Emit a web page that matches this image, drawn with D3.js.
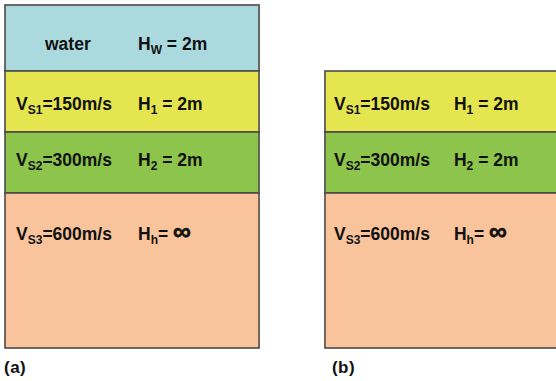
<!DOCTYPE html>
<html>
<head>
<meta charset="utf-8">
<script src="https://cdn.jsdelivr.net/npm/d3@7/dist/d3.min.js"></script>
<style>
  html, body { margin: 0; padding: 0; background: #fff; }
  svg { display: block; }
  text { font-family: "Liberation Sans", Arial, sans-serif; font-weight: bold; fill: #111; }
</style>
</head>
<body>
<svg id="chart" width="556" height="381"></svg>
<script>
// Layered soil models: (a) with a water layer on top, (b) without.
const panels = ["a", "b"];
const panelLabels = ["(a)", "(b)"];
const layerIds = ["water", "s1", "s2", "s3"];
const layerTop = [-2, 0, 2, 4];          // depth of layer top, m
const layerBottom = [0, 2, 4, 9];        // depth shown for layer bottom, m (half-space cut)
const velocityLabel = ["water", "150m/s", "300m/s", "600m/s"];
const velocitySub = ["", "S1", "S2", "S3"];
const thicknessSub = ["W", "1", "2", "h"];
const thicknessLabel = [" = 2m", " = 2m", " = 2m", "= ∞"];
const layerColors = ["#aad9de", "#e4e54f", "#8dc44b", "#f9c49b"];
const panelLayers = [["water", "s1", "s2", "s3"], ["s1", "s2", "s3"]];

const svg = d3.select("#chart");

const x = d3.scaleBand().domain(panels).range([5, 579]).paddingInner(0.206).paddingOuter(0);
const y = d3.scaleLinear().domain([-2, 0, 2, 4, 9]).range([5, 71, 132, 193, 348]);
// baseline offset of the labels below each layer's top edge, px
const textOffset = d3.scaleOrdinal().domain(layerIds).range([45, 39, 34, 47]);

const layers = layerIds.map((id, i) => ({
  id, top: layerTop[i], bottom: layerBottom[i],
  vLab: velocityLabel[i], vSub: velocitySub[i],
  hSub: thicknessSub[i], hLab: thicknessLabel[i], color: layerColors[i]
}));

const fs = 17.5, subFs = 12;

panels.forEach((p, pi) => {
  const g = svg.append("g").attr("transform", `translate(${x(p)},0)`);
  const data = layers.filter(l => panelLayers[pi].includes(l.id));
  const w = x.bandwidth();

  g.selectAll("rect.layer").data(data).join("rect")
    .attr("class", "layer")
    .attr("x", 0).attr("width", w)
    .attr("y", d => y(d.top)).attr("height", d => y(d.bottom) - y(d.top))
    .attr("fill", d => d.color)
    .attr("stroke", "#4d4a47").attr("stroke-width", 1.6);

  const vx = pi === 0 ? 11 : 9;
  const hx = pi === 0 ? 133 : 129;

  data.forEach(d => {
    const by = y(d.top) + textOffset(d.id);
    // velocity label
    const tv = g.append("text").attr("font-size", fs).attr("y", by);
    if (d.id === "water") {
      tv.attr("x", vx + 29).text(d.vLab);
    } else {
      tv.attr("x", vx);
      tv.append("tspan").text("V");
      tv.append("tspan").attr("font-size", subFs).attr("dy", 4).text(d.vSub);
      tv.append("tspan").attr("dy", -4).text("=" + d.vLab);
    }
    // thickness label
    const th = g.append("text").attr("font-size", fs).attr("x", hx).attr("y", by);
    th.append("tspan").text("H");
    th.append("tspan").attr("font-size", subFs).attr("dy", 4).text(d.hSub);
    if (d.id === "s3") {
      th.append("tspan").attr("dy", -4).text("= ");
      th.append("tspan").attr("font-size", 25).attr("stroke", "#111").attr("stroke-width", 0.6)
        .text("∞");
    } else {
      th.append("tspan").attr("dy", -4).text(d.hLab);
    }
  });

  svg.append("text").attr("x", x(p) + (pi === 0 ? -1 : 7)).attr("y", 373)
    .attr("font-size", 17).attr("letter-spacing", 0.5).text(panelLabels[pi]);
});
</script>
</body>
</html>
